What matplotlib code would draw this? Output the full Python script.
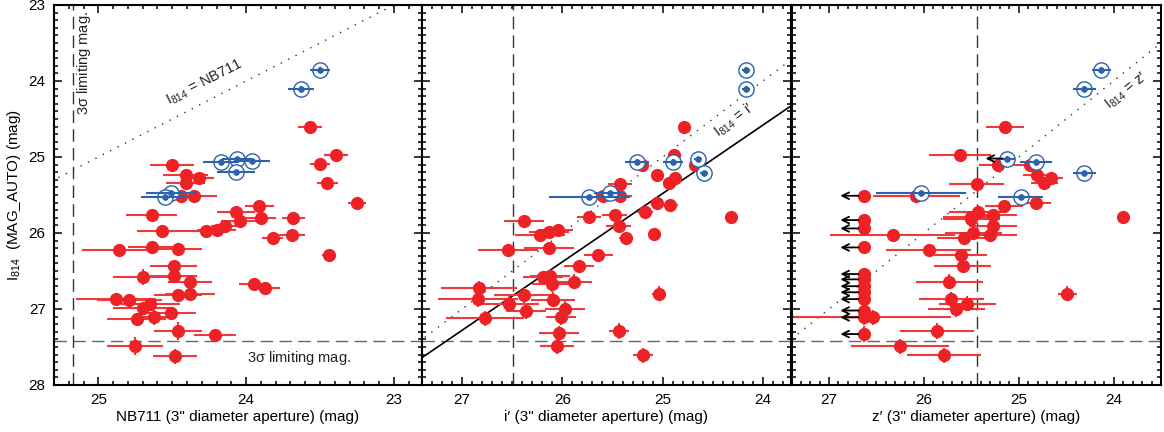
import numpy as np
import matplotlib
matplotlib.use("Agg")
import matplotlib.pyplot as plt
from matplotlib.ticker import MultipleLocator

plt.rcParams['font.family'] = ['Liberation Sans', 'DejaVu Sans']
plt.rcParams['font.size'] = 10
plt.rcParams['mathtext.default'] = 'regular'

red = '#ec2227'
red_err = '#ee3a3a'
blue = '#2c62ae'

# ---- panel 1: NB711 ----
nb_x = [23.57, 23.39, 23.50, 23.45, 23.25, 24.50, 24.41, 24.32, 24.41, 24.44, 24.35, 23.91,
        24.64, 24.07, 24.04, 23.90, 23.68, 24.57, 24.27, 24.20, 24.14, 23.82, 23.69, 23.44,
        24.86, 24.64, 24.46, 24.49, 24.49, 24.70, 24.38, 23.95, 23.87, 24.46, 24.38, 24.88,
        24.79, 24.65, 24.70, 24.51, 24.74, 24.62, 24.46, 24.21, 24.75, 24.48]
nb_y = [24.60, 24.97, 25.09, 25.34, 25.60, 25.10, 25.24, 25.27, 25.34, 25.51, 25.51, 25.64,
        25.76, 25.73, 25.84, 25.80, 25.80, 25.98, 25.98, 25.96, 25.91, 26.07, 26.02, 26.29,
        26.22, 26.18, 26.21, 26.43, 26.56, 26.58, 26.64, 26.67, 26.73, 26.82, 26.80, 26.87,
        26.88, 26.94, 26.99, 27.05, 27.13, 27.11, 27.29, 27.34, 27.49, 27.62]
nb_xerr = [0.08, 0.08, 0.07, 0.07, 0.06, 0.15, 0.15, 0.10, 0.13, 0.15, 0.15, 0.10,
           0.17, 0.13, 0.13, 0.10, 0.08, 0.17, 0.13, 0.13, 0.10, 0.07, 0.09, 0.05,
           0.25, 0.16, 0.16, 0.16, 0.16, 0.20, 0.15, 0.10, 0.10, 0.16, 0.17, 0.27,
           0.22, 0.20, 0.20, 0.17, 0.20, 0.13, 0.16, 0.14, 0.19, 0.15]
nb_yerr = [0.03, 0.03, 0.03, 0.03, 0.03, 0.03, 0.03, 0.03, 0.03, 0.03, 0.03, 0.03,
           0.04, 0.04, 0.04, 0.04, 0.04, 0.05, 0.05, 0.08, 0.05, 0.05, 0.05, 0.05,
           0.08, 0.06, 0.06, 0.06, 0.06, 0.10, 0.06, 0.06, 0.06, 0.08, 0.08, 0.08,
           0.08, 0.08, 0.08, 0.08, 0.08, 0.10, 0.12, 0.08, 0.12, 0.10]
nb_bx = [23.50, 23.63, 24.17, 24.06, 23.96, 24.07, 24.51, 24.55]
nb_by = [23.85, 24.10, 25.06, 25.03, 25.05, 25.20, 25.48, 25.53]
nb_bxerr = [0.065, 0.09, 0.12, 0.10, 0.12, 0.13, 0.17, 0.16]

# ---- panel 2: i' ----
i_x = [24.79, 25.21, 24.89, 24.68, 25.06, 24.88, 24.94, 25.43, 25.59, 25.43, 25.06, 24.93,
       25.18, 25.48, 25.73, 24.32, 26.38, 25.44, 25.37, 25.09, 26.22, 26.13, 26.04, 26.13,
       26.54, 25.64, 25.83, 25.88, 26.19, 26.12, 26.10, 26.83, 26.84, 26.38, 26.09, 26.53,
       25.97, 26.36, 26.01, 26.77, 26.03, 25.44, 26.05, 25.20, 25.04]
i_y = [24.60, 25.11, 24.98, 25.10, 25.24, 25.27, 25.34, 25.36, 25.51, 25.51, 25.60, 25.63,
       25.73, 25.76, 25.79, 25.79, 25.84, 25.91, 26.06, 26.01, 26.02, 25.99, 25.96, 26.20,
       26.23, 26.29, 26.43, 26.64, 26.58, 26.56, 26.67, 26.73, 26.87, 26.82, 26.88, 26.93,
       27.00, 27.03, 27.11, 27.12, 27.32, 27.29, 27.49, 27.61, 26.80]
i_xerr = [0.05, 0.06, 0.05, 0.05, 0.06, 0.06, 0.06, 0.12, 0.15, 0.12, 0.07, 0.08,
          0.08, 0.12, 0.12, 0.03, 0.20, 0.12, 0.07, 0.06, 0.25, 0.20, 0.15, 0.25,
          0.30, 0.14, 0.15, 0.18, 0.20, 0.20, 0.20, 0.38, 0.40, 0.30, 0.22, 0.30,
          0.20, 0.20, 0.15, 0.39, 0.20, 0.10, 0.17, 0.10, 0.07]
i_bx = [24.17, 24.17, 25.26, 24.90, 24.65, 24.59, 25.73, 25.53]
i_by = [23.85, 24.10, 25.06, 25.06, 25.03, 25.21, 25.53, 25.48]
i_bxerr = [0.04, 0.04, 0.12, 0.10, 0.04, 0.04, 0.40, 0.15]
fit_x = [27.40, 23.72]   # solid line I814 = 0.9 i' + 2.98
fit_a, fit_b = 0.9, 2.98

# ---- panel 3: z' ----
z_x = [25.14, 25.62, 25.22, 24.88, 24.81, 24.66, 24.73, 25.44, 26.08, 25.16, 24.82, 25.43,
       25.50, 25.27, 23.90, 25.50, 25.27, 25.30, 25.48, 25.58, 26.33, 25.95, 25.61, 25.59,
       25.73, 25.71, 25.54, 25.66, 26.54, 25.86, 26.25, 25.79, 24.49]
z_y = [24.60, 24.98, 25.10, 25.10, 25.24, 25.27, 25.34, 25.36, 25.51, 25.64, 25.60, 25.73,
       25.79, 25.76, 25.79, 25.81, 25.91, 26.02, 26.00, 26.06, 26.02, 26.23, 26.29, 26.43,
       26.64, 26.87, 26.93, 27.00, 27.11, 27.29, 27.49, 27.61, 26.80]
z_xerr = [0.20, 0.33, 0.20, 0.15, 0.15, 0.13, 0.14, 0.29, 0.46, 0.20, 0.16, 0.30,
          0.30, 0.25, 0.05, 0.30, 0.25, 0.28, 0.30, 0.28, 0.66, 0.45, 0.28, 0.30,
          0.35, 0.34, 0.30, 0.30, 0.83, 0.39, 0.52, 0.39, 0.10]
z_lim_x = 26.63
z_lim_y = [25.51, 25.83, 25.94, 26.19, 26.54, 26.61, 26.70, 26.78, 26.87, 27.02, 27.11, 27.33]
z_bx = [24.13, 24.31, 25.12, 24.82, 24.31, 26.03, 24.98]
z_by = [23.85, 24.10, 25.02, 25.06, 25.21, 25.48, 25.53]
z_bxerr = [0.10, 0.12, 0.08, 0.17, 0.12, 0.47, 0.24]
z_blim = [False, False, True, False, False, False, False]


def yerr_for(y):
    return [0.03 if v < 25.7 else (0.06 if v < 26.6 else 0.10) for v in y]


fig = plt.figure(figsize=(11.64, 4.32), dpi=100)
W, H = 1164, 432
ax1 = fig.add_axes([54 / W, 47 / H, 368 / W, 380 / H])
ax2 = fig.add_axes([422 / W, 47 / H, 369 / W, 380 / H])
ax3 = fig.add_axes([792 / W, 47 / H, 369 / W, 380 / H])

xlims = [(25.30, 22.81), (27.40, 23.72), (27.39, 23.50)]
vlines = [25.17, 26.49, 25.445]
for ax, xl, vl in zip([ax1, ax2, ax3], xlims, vlines):
    ax.set_xlim(*xl)
    ax.set_ylim(28, 23)
    ax.xaxis.set_major_locator(MultipleLocator(1))
    ax.xaxis.set_minor_locator(MultipleLocator(0.1))
    ax.yaxis.set_major_locator(MultipleLocator(1))
    ax.yaxis.set_minor_locator(MultipleLocator(0.1))
    ax.tick_params(which='both', direction='in', top=True, right=True, width=1.1, labelsize=11)
    ax.tick_params(which='major', length=6, pad=6)
    ax.tick_params(which='minor', length=3)
    for s in ax.spines.values():
        s.set_linewidth(1.5)
    ax.axhline(27.42, color='#666666', lw=1, dashes=(9, 4.5), zorder=1)
    ax.axvline(vl, color='#333333', lw=1, dashes=(9, 4.5), zorder=1)
    ax.plot([30, 20], [30, 20], color='#333333', lw=1, dashes=(1, 5), zorder=1)
    if ax is not ax1:
        ax.set_yticklabels([])


def draw(ax, x, y, xerr, bx, by, bxerr, yerr=None):
    if yerr is None:
        yerr = yerr_for(y)
    ax.errorbar(x, y, xerr=xerr, yerr=yerr, fmt='none', ecolor=red_err, elinewidth=1.5, zorder=3)
    ax.plot(x, y, 'o', color=red, ms=9.5, mec='none', zorder=4)
    ax.errorbar(bx, by, xerr=bxerr, yerr=0.03, fmt='o', color=blue, ms=4.5, mec='none',
                elinewidth=1.5, zorder=5)
    ax.plot(bx, by, 'o', mfc='white', mec=blue, ms=11, mew=1, zorder=4.5)
    ax.plot(bx, by, 'o', color=blue, ms=4.5, mec='none', zorder=6)


draw(ax1, nb_x, nb_y, nb_xerr, nb_bx, nb_by, nb_bxerr, yerr=nb_yerr)
draw(ax2, i_x, i_y, i_xerr, i_bx, i_by, i_bxerr)
draw(ax3, z_x, z_y, z_xerr, z_bx, z_by, z_bxerr)

# solid fit line in panel 2
fx = np.array(fit_x)
ax2.plot(fx, fit_a * fx + fit_b, color='black', lw=1.2, zorder=2)

# upper limits in panel 3
ax3.plot([z_lim_x] * len(z_lim_y), z_lim_y, 'o', color=red, ms=9.5, mec='none', zorder=4)
ax3.errorbar([z_lim_x] * len(z_lim_y), z_lim_y, yerr=yerr_for(z_lim_y), fmt='none',
             ecolor=red_err, elinewidth=1.5, zorder=3)
for yv in z_lim_y:
    ax3.annotate('', xy=(z_lim_x + 0.25, yv), xytext=(z_lim_x + 0.06, yv),
                 arrowprops=dict(arrowstyle='->', color='black', lw=1.3, mutation_scale=12,
                                 shrinkA=0, shrinkB=0), zorder=7)
for xv, yv, lim in zip(z_bx, z_by, z_blim):
    if lim:
        ax3.annotate('', xy=(xv + 0.23, yv), xytext=(xv + 0.05, yv),
                     arrowprops=dict(arrowstyle='->', color='black', lw=1.3, mutation_scale=12,
                                     shrinkA=0, shrinkB=0), zorder=7)


def line_angle(ax):
    p = ax.transData.transform([(25, 25), (24, 24)])
    d = p[1] - p[0]
    return np.degrees(np.arctan2(d[1], d[0]))


ax1.text(24.28, 24.02, r'$I_{814}$ = NB711', rotation=line_angle(ax1), ha='center', va='center',
         fontsize=10.5, color='#222222')
ax2.text(24.29, 24.52, r"$I_{814}$ = i′", rotation=line_angle(ax2), ha='center', va='center',
         fontsize=10.5, color='#222222')
ax3.text(23.86, 24.13, r"$I_{814}$ = z′", rotation=line_angle(ax3), ha='center', va='center',
         fontsize=10.5, color='#222222')
ax1.text(25.10, 23.76, r'3$\sigma$ limiting mag.', rotation=90, ha='center', va='center',
         fontsize=10.5, color='#222222')
ax1.text(23.64, 27.64, r'3$\sigma$ limiting mag.', ha='center', va='center',
         fontsize=10.5, color='#222222')

ax1.set_ylabel(r'$I_{814}$  (MAG_AUTO) (mag)', fontsize=11, labelpad=4)
ax1.set_xlabel('NB711 (3" diameter aperture) (mag)', fontsize=11, labelpad=2)
ax2.set_xlabel('i′ (3" diameter aperture) (mag)', fontsize=11, labelpad=2)
ax3.set_xlabel('z′ (3" diameter aperture) (mag)', fontsize=11, labelpad=2)

fig.savefig('out.png', dpi=100)
